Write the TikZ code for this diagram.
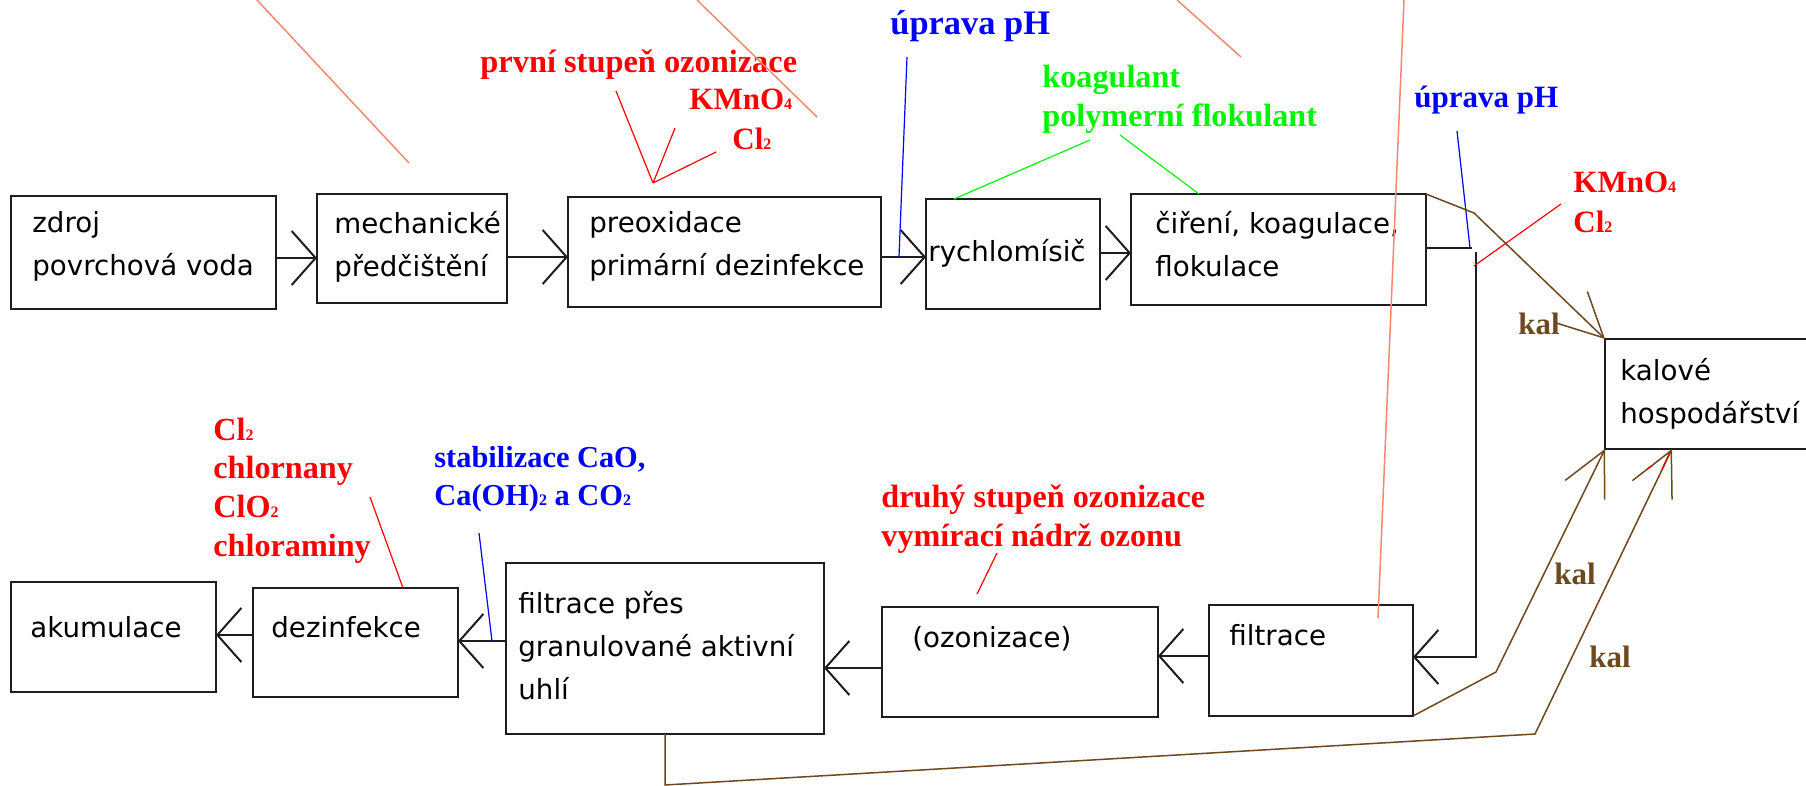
\documentclass[tikz,border=0pt]{standalone}
\usepackage{fontspec}
\setmainfont{Liberation Serif}
\newfontfamily\boxfont{DejaVu Sans}
\usetikzlibrary{arrows.meta}

\definecolor{leadred}{RGB}{255,0,0}
\definecolor{leadblue}{RGB}{0,0,255}
\definecolor{leadgreen}{RGB}{0,245,0}
\definecolor{sludge}{RGB}{110,72,30}
\definecolor{strayline}{RGB}{244,137,111}
\definecolor{frame}{RGB}{30,30,30}

% small chemical index sitting on the baseline
\newcommand\chemsub[1]{{\fontsize{8pt}{8pt}\selectfont #1}}
% left-aligned block of lines whose baseline is the first line
\newcommand\linesof[1]{\begin{tabular}[t]{@{}l@{}}#1\end{tabular}}
% process box: name, top-left x, top-left y, width, height (in pixels)
\newcommand\unitbox[5]{\node[procbox, minimum width=#4*0.5pt, minimum height=#5*0.5pt] (#1) at (#2,#3) {};}
% bold serif note font of a given size and line distance
\newcommand\notefont[2]{\bfseries\fontsize{#1}{#2}\selectfont}

\begin{document}
\begin{tikzpicture}[x=0.5pt,y=-0.5pt,
  procbox/.style={draw=frame, line width=1pt, rectangle, inner sep=0pt, outer sep=0pt, anchor=north west},
  boxtext/.style={anchor=base west, inner sep=0pt, text=black, font=\boxfont\fontsize{13.85pt}{21.5pt}\selectfont},
  note/.style={anchor=base west, inner sep=0pt, font=\notefont{15.5pt}{20pt}},
  flow/.style={draw=frame, line width=1pt, -{Straight Barb[length=12pt,width=27pt]}},
  plain/.style={draw=frame, line width=1pt},
  sludgeflow/.style={draw=sludge, line width=0.75pt, -{Straight Barb[length=22pt,width=22pt]}},
  lead/.style={line width=0.6pt},
  stray/.style={draw=strayline, line width=0.75pt},
]
\path[use as bounding box] (0,0) rectangle (1806,786);
\fill[white] (0,0) rectangle (1806,786);
\clip (0,0) rectangle (1806,786);

% ---- process boxes ----
\unitbox{zdroj}{11}{196}{265}{113}
\unitbox{mech}{317}{194}{190}{109}
\unitbox{preox}{568}{197}{313}{110}
\unitbox{rychlo}{926}{199}{174}{110}
\unitbox{cir}{1131}{194}{295}{111}
\unitbox{kalhosp}{1605}{339}{240}{110}
\unitbox{akum}{11}{582}{205}{110}
\unitbox{dezi}{253}{588}{205}{109}
\unitbox{gac}{506}{563}{318}{171}
\unitbox{ozon}{882}{607}{276}{110}
\unitbox{filt}{1209}{605}{204}{111}

% ---- box texts ----
\node[boxtext] (zdrojtxt) at (32,233) {\linesof{zdroj\\povrchová voda}};
\node[boxtext] (mechtxt) at (334,234) {\linesof{mechanické\\předčištění}};
\node[boxtext] (preoxtxt) at (589,233) {\linesof{preoxidace\\primární dezinfekce}};
\node[boxtext] (rychlotxt) at (928,262) {rychlomísič};
\node[boxtext] (cirtxt) at (1155,234) {\linesof{čiření, koagulace,\\flokulace}};
\node[boxtext] (kaltxt) at (1620,380) {\linesof{kalové\\hospodářství}};
\node[boxtext] (akumtxt) at (30,637) {akumulace};
\node[boxtext] (dezitxt) at (271,637) {dezinfekce};
\node[boxtext] (gactxt) at (518,613) {\linesof{filtrace přes\\granulované aktivní\\uhlí}};
\node[boxtext] (ozontxt) at (912,647) {(ozonizace)};
\node[boxtext] (filttxt) at (1229,645) {filtrace};

% ---- dosing notes ----
\node[note, text=leadred, font=\notefont{16.2pt}{20pt}] (ozon1) at (480,73) {první stupeň ozonizace};
\node[note, text=leadred] (kmno1) at (689,110) {KMnO\chemsub{4}};
\node[note, text=leadred] (clone) at (732,150) {Cl\chemsub{2}};
\node[note, text=leadblue, font=\notefont{17.2pt}{20pt}] (ph1) at (890,35) {úprava pH};
\node[note, text=leadgreen, font=\notefont{16.1pt}{19.5pt}] (koag) at (1042,88) {\linesof{koagulant\\polymerní flokulant}};
\node[note, text=leadblue] (ph2) at (1414,108) {úprava pH};
\node[note, text=leadred] (kmno2) at (1573,193) {\linesof{KMnO\chemsub{4}\\Cl\chemsub{2}}};
\node[note, text=leadred, font=\notefont{16.1pt}{19.5pt}] (chlor) at (213,440)
  {\linesof{Cl\chemsub{2}\\chlornany\\ClO\chemsub{2}\\chloraminy}};
\node[note, text=leadblue, font=\notefont{15.2pt}{19pt}] (stab) at (434,467)
  {\linesof{stabilizace CaO,\\Ca(OH)\chemsub{2} a CO\chemsub{2}}};
\node[note, text=leadred, font=\notefont{16.1pt}{20pt}] (ozon2) at (881,507) {\linesof{druhý stupeň ozonizace\\vymírací nádrž ozonu}};
\node[note, text=sludge] (kala) at (1518,335) {kal};
\node[note, text=sludge] (kalb) at (1554,584) {kal};
\node[note, text=sludge] (kalc) at (1589,667) {kal};

% ---- water flow ----
\draw[flow] (zdroj.east |- 0,258) -- (mech.west |- 0,258);
\draw[flow] (mech.east |- 0,257) -- (preox.west |- 0,257);
\draw[flow] (preox.east |- 0,257) -- (rychlo.west |- 0,257);
\draw[flow] (rychlo.east |- 0,253) -- (cir.west |- 0,253);
\coordinate (outcir) at (1472,248);
\coordinate (downtop) at (1476,252);
\coordinate (downbot) at (1476,657);
\draw[plain] (cir.east |- outcir) -- (outcir);
\draw[flow] (downtop) -- (downbot) -- (filt.east |- downbot);
\draw[flow] (filt.west |- 0,656) -- (ozon.east |- 0,656);
\draw[flow] (ozon.west |- 0,668) -- (gac.east |- 0,668);
\draw[flow] (gac.west |- 0,641) -- (dezi.east |- 0,641);
\draw[flow] (dezi.west |- 0,635) -- (akum.east |- 0,635);

% ---- leader lines of the dosing notes ----
\coordinate (dose1) at (653,183);
\draw[lead, leadred] (616,91) -- (dose1) (675,128) -- (dose1) (716,152) -- (dose1);
\draw[lead, leadblue] (907,57) -- (899,257);
\draw[lead, leadgreen] (1090,140) -- (rychlo.north -| 954,0);
\draw[lead, leadgreen] (1120,135) -- (cir.north -| 1199,0);
\draw[lead, leadblue] (1457,131) -- (1470,248);
\draw[lead, leadred] (1561,204) -- (1474,266);
\draw[lead, leadred] (370,497) -- (dezi.north -| 403,0);
\draw[lead, leadblue] (479,533) -- (492,641);
\draw[lead, leadred] (997,553) -- (977,594);

% ---- sludge lines ----
\draw[sludgeflow] (cir.north east) -- (1474,213) -- (kalhosp.north west);
\draw[sludgeflow] (filt.south east) -- (1496,672) -- (kalhosp.south west);
\draw[sludgeflow] (gac.south -| 665,0) -- (665,785) -- (1535,734) -- (kalhosp.south -| 1672,0);
\draw[lead, leadred] (1662,469) -- (1670,452) (1647,469) -- (1652,466);

% ---- loose strokes ----
\draw[stray] (257,0) -- (409,163);
\draw[stray] (697,0) -- (817,117);
\draw[stray] (1177,0) -- (1241,57);
\draw[stray] (1404,0) -- (1378,618);
\end{tikzpicture}
\end{document}
